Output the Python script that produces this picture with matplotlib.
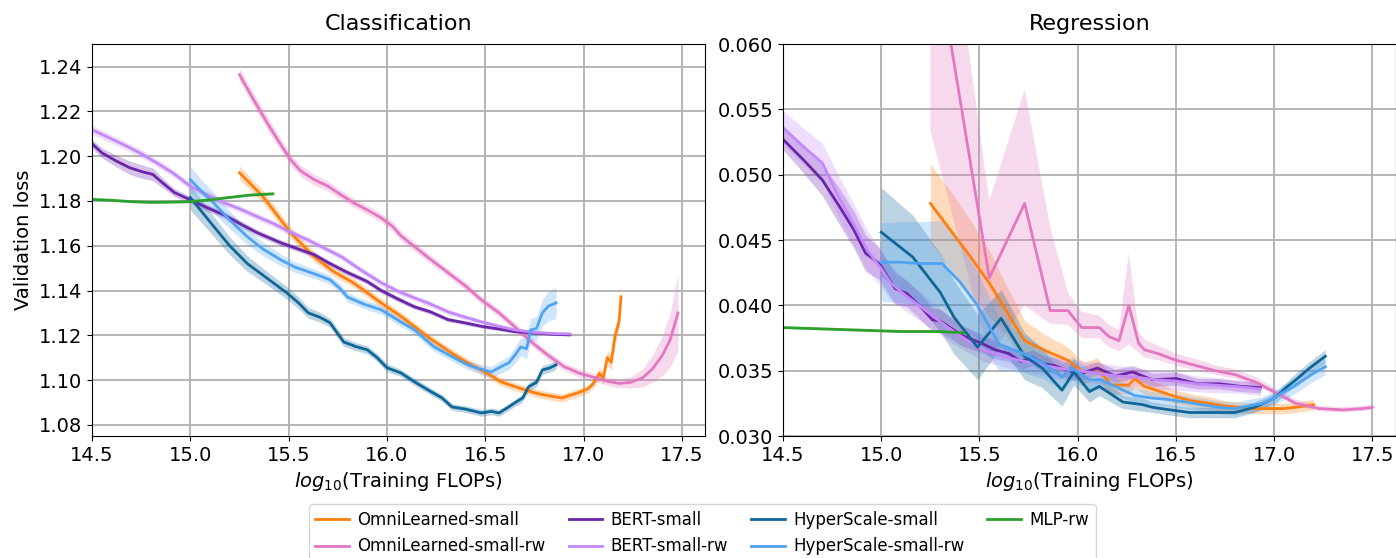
import numpy as np
import matplotlib
matplotlib.use("Agg")
import matplotlib.pyplot as plt

# ---- Classification: log10 FLOPs, mean validation loss, band half-width ----
cls_omni_x = [15.25, 15.37, 15.51, 15.63, 15.73, 15.83, 15.97, 16.07, 16.22, 16.33, 16.41, 16.50,
              16.58, 16.67, 16.75, 16.82, 16.89, 16.97, 17.02, 17.05, 17.08, 17.10, 17.12, 17.14,
              17.16, 17.18, 17.19]
cls_omni_y = [1.1926, 1.1819, 1.1658, 1.1550, 1.1484, 1.1434, 1.1345, 1.1285, 1.1185, 1.1120, 1.1077,
              1.1035, 1.0992, 1.0965, 1.0943, 1.0930, 1.0920, 1.0943, 1.0960, 1.0985, 1.1030, 1.1010,
              1.1100, 1.1080, 1.1200, 1.1260, 1.1372]
cls_omni_e = [0.0030, 0.0028, 0.0025, 0.0022, 0.0020, 0.0020, 0.0020, 0.0020, 0.0018, 0.0018, 0.0018,
              0.0018, 0.0018, 0.0018, 0.0018, 0.0018, 0.0018, 0.0018, 0.0018, 0.0020, 0.0025, 0.0030,
              0.0030, 0.0035, 0.0040, 0.0040, 0.0045]

cls_omni_rw_x = [15.25, 15.32, 15.39, 15.45, 15.51, 15.56, 15.63, 15.70, 15.77, 15.83, 15.90, 15.97,
                 16.03, 16.07, 16.14, 16.22, 16.31, 16.40, 16.48, 16.57, 16.65, 16.74, 16.82, 16.90,
                 16.98, 17.06, 17.12, 17.18, 17.24, 17.30, 17.35, 17.40, 17.44, 17.48]
cls_omni_rw_y = [1.2364, 1.2255, 1.2150, 1.2065, 1.1984, 1.1935, 1.1895, 1.1866, 1.1825, 1.1792, 1.1760,
                 1.1725, 1.1685, 1.1645, 1.1596, 1.1540, 1.1480, 1.1420, 1.1358, 1.1300, 1.1238, 1.1166,
                 1.1110, 1.1060, 1.1030, 1.1010, 1.0995, 1.0985, 1.0990, 1.1010, 1.1050, 1.1110, 1.1180,
                 1.1300]
cls_omni_rw_e = [0.0030, 0.0030, 0.0030, 0.0028, 0.0026, 0.0025, 0.0024, 0.0022, 0.0020, 0.0020, 0.0020,
                 0.0020, 0.0022, 0.0022, 0.0020, 0.0020, 0.0018, 0.0018, 0.0018, 0.0018, 0.0018, 0.0018,
                 0.0018, 0.0018, 0.0018, 0.0018, 0.0018, 0.0020, 0.0025, 0.0040, 0.0060, 0.0090, 0.0120,
                 0.0170]

cls_bert_x = [14.50, 14.55, 14.62, 14.69, 14.75, 14.81, 14.86, 14.92, 15.00, 15.08, 15.17, 15.26, 15.34,
              15.46, 15.55, 15.63, 15.70, 15.80, 15.90, 15.97, 16.06, 16.14, 16.22, 16.31, 16.40, 16.48,
              16.57, 16.65, 16.75, 16.84, 16.93]
cls_bert_y = [1.2056, 1.2015, 1.1980, 1.1949, 1.1932, 1.1918, 1.1880, 1.1837, 1.1805, 1.1772, 1.1738,
              1.1695, 1.1658, 1.1613, 1.1585, 1.1560, 1.1525, 1.1480, 1.1440, 1.1400, 1.1360, 1.1327,
              1.1305, 1.1270, 1.1255, 1.1240, 1.1228, 1.1216, 1.1210, 1.1205, 1.1202]
cls_bert_e = [0.0020, 0.0022, 0.0026, 0.0030, 0.0030, 0.0028, 0.0022, 0.0018, 0.0015, 0.0015, 0.0015,
              0.0015, 0.0014, 0.0013, 0.0012, 0.0012, 0.0012, 0.0012, 0.0012, 0.0012, 0.0012, 0.0011,
              0.0010, 0.0010, 0.0009, 0.0008, 0.0008, 0.0007, 0.0007, 0.0006, 0.0006]

cls_bert_rw_x = [14.50, 14.58, 14.66, 14.74, 14.82, 14.91, 15.00, 15.08, 15.17, 15.25, 15.34, 15.42,
                 15.51, 15.60, 15.68, 15.77, 15.87, 15.97, 16.06, 16.14, 16.22, 16.31, 16.40, 16.48,
                 16.57, 16.65, 16.75, 16.84, 16.93]
cls_bert_rw_y = [1.2118, 1.2085, 1.2052, 1.2016, 1.1975, 1.1926, 1.1866, 1.1830, 1.1792, 1.1765, 1.1730,
                 1.1700, 1.1660, 1.1625, 1.1590, 1.1550, 1.1490, 1.1435, 1.1395, 1.1367, 1.1340, 1.1305,
                 1.1280, 1.1260, 1.1240, 1.1224, 1.1213, 1.1208, 1.1206]
cls_bert_rw_e = [0.0020, 0.0019, 0.0018, 0.0018, 0.0017, 0.0016, 0.0016, 0.0015, 0.0015, 0.0015, 0.0015,
                 0.0015, 0.0015, 0.0014, 0.0014, 0.0014, 0.0014, 0.0014, 0.0013, 0.0013, 0.0013, 0.0012,
                 0.0012, 0.0011, 0.0010, 0.0009, 0.0008, 0.0007, 0.0006]

cls_hyper_x = [15.00, 15.06, 15.12, 15.20, 15.29, 15.39, 15.49, 15.55, 15.60, 15.66, 15.71, 15.78, 15.84,
               15.90, 15.95, 16.00, 16.07, 16.14, 16.22, 16.28, 16.33, 16.40, 16.48, 16.53, 16.57, 16.61,
               16.65, 16.69, 16.72, 16.76, 16.79, 16.83, 16.86]
cls_hyper_y = [1.1815, 1.1750, 1.1685, 1.1600, 1.1520, 1.1455, 1.1390, 1.1345, 1.1300, 1.1280, 1.1256,
               1.1170, 1.1150, 1.1135, 1.1100, 1.1055, 1.1032, 1.0992, 1.0950, 1.0920, 1.0880, 1.0870,
               1.0853, 1.0860, 1.0853, 1.0875, 1.0898, 1.0920, 1.0970, 1.0990, 1.1045, 1.1055, 1.1068]
cls_hyper_e = [0.0055, 0.0050, 0.0045, 0.0040, 0.0035, 0.0030, 0.0028, 0.0026, 0.0024, 0.0022, 0.0020,
               0.0020, 0.0018, 0.0018, 0.0018, 0.0018, 0.0016, 0.0016, 0.0016, 0.0015, 0.0015, 0.0015,
               0.0015, 0.0015, 0.0015, 0.0015, 0.0016, 0.0017, 0.0018, 0.0019, 0.0020, 0.0020, 0.0020]

cls_hyper_rw_x = [15.00, 15.06, 15.12, 15.20, 15.29, 15.37, 15.46, 15.53, 15.60, 15.66, 15.71, 15.76,
                  15.80, 15.88, 15.97, 16.07, 16.14, 16.24, 16.33, 16.41, 16.47, 16.53, 16.58, 16.62,
                  16.65, 16.68, 16.71, 16.73, 16.76, 16.79, 16.82, 16.86]
cls_hyper_rw_y = [1.1895, 1.1840, 1.1790, 1.1715, 1.1640, 1.1585, 1.1537, 1.1505, 1.1484, 1.1465, 1.1448,
                  1.1410, 1.1370, 1.1340, 1.1314, 1.1260, 1.1224, 1.1148, 1.1105, 1.1068, 1.1050, 1.1036,
                  1.1060, 1.1077, 1.1110, 1.1148, 1.1140, 1.1224, 1.1230, 1.1300, 1.1330, 1.1345]
cls_hyper_rw_e = [0.0060, 0.0052, 0.0045, 0.0040, 0.0035, 0.0030, 0.0026, 0.0024, 0.0022, 0.0020, 0.0020,
                  0.0020, 0.0020, 0.0020, 0.0020, 0.0020, 0.0020, 0.0020, 0.0020, 0.0020, 0.0022, 0.0025,
                  0.0028, 0.0030, 0.0035, 0.0040, 0.0045, 0.0050, 0.0055, 0.0060, 0.0065, 0.0070]

cls_mlp_x = [14.50, 14.60, 14.70, 14.80, 14.90, 15.00, 15.10, 15.20, 15.30, 15.42]
cls_mlp_y = [1.1807, 1.1803, 1.1797, 1.1794, 1.1795, 1.1797, 1.1805, 1.1816, 1.1826, 1.1832]
cls_mlp_e = [0.0005, 0.0005, 0.0005, 0.0005, 0.0005, 0.0005, 0.0005, 0.0005, 0.0005, 0.0005]

# ---- Regression ----
reg_omni_x = [15.25, 15.35, 15.45, 15.55, 15.62, 15.68, 15.73, 15.84, 15.95, 16.03, 16.10, 16.17, 16.26,
              16.29, 16.34, 16.42, 16.50, 16.58, 16.67, 16.75, 16.82, 16.90, 16.98, 17.05, 17.11, 17.16,
              17.20]
reg_omni_y = [0.0478, 0.0458, 0.0438, 0.0417, 0.0400, 0.0385, 0.0373, 0.0365, 0.0358, 0.0348, 0.0352,
              0.0339, 0.0339, 0.0344, 0.0338, 0.0334, 0.0330, 0.0327, 0.0325, 0.0323, 0.0322, 0.0321,
              0.0321, 0.0321, 0.0322, 0.0323, 0.0324]
reg_omni_e = [0.0030, 0.0030, 0.0028, 0.0025, 0.0020, 0.0018, 0.0015, 0.0012, 0.0010, 0.0008, 0.0008,
              0.0007, 0.0007, 0.0007, 0.0006, 0.0006, 0.0005, 0.0005, 0.0005, 0.0004, 0.0004, 0.0004,
              0.0004, 0.0004, 0.0004, 0.0004, 0.0004]

reg_omni_rw_x = [15.25, 15.55, 15.73, 15.86, 15.95, 16.02, 16.11, 16.16, 16.21, 16.26, 16.31, 16.34,
                 16.41, 16.50, 16.60, 16.70, 16.80, 16.91, 17.01, 17.11, 17.23, 17.35, 17.45, 17.50]
reg_omni_rw_y = [0.0696, 0.0421, 0.0478, 0.0396, 0.0396, 0.0383, 0.0383, 0.0376, 0.0373, 0.0400, 0.0371,
                 0.0366, 0.0363, 0.0358, 0.0354, 0.0350, 0.0347, 0.0341, 0.0333, 0.0325, 0.0321, 0.0320,
                 0.0321, 0.0322]
reg_omni_rw_lo = [0.0534, 0.0360, 0.0400, 0.0386, 0.0385, 0.0375, 0.0375, 0.0368, 0.0365, 0.0370, 0.0364,
                  0.0360, 0.0358, 0.0354, 0.0350, 0.0347, 0.0344, 0.0338, 0.0331, 0.0323, 0.0319, 0.0318,
                  0.0319, 0.0320]
reg_omni_rw_hi = [0.0810, 0.0480, 0.0565, 0.0460, 0.0410, 0.0395, 0.0392, 0.0385, 0.0381, 0.0440, 0.0380,
                  0.0374, 0.0369, 0.0363, 0.0359, 0.0354, 0.0351, 0.0345, 0.0336, 0.0328, 0.0323, 0.0322,
                  0.0323, 0.0324]

reg_bert_x = [14.50, 14.60, 14.70, 14.79, 14.86, 14.92, 14.99, 15.07, 15.13, 15.20, 15.26, 15.30, 15.36,
              15.41, 15.51, 15.58, 15.65, 15.71, 15.77, 15.83, 15.88, 15.95, 16.02, 16.10, 16.19, 16.28,
              16.38, 16.50, 16.61, 16.72, 16.83, 16.93]
reg_bert_y = [0.0527, 0.0512, 0.0496, 0.0475, 0.0458, 0.0440, 0.0432, 0.0413, 0.0409, 0.0399, 0.0389,
              0.0388, 0.0382, 0.0377, 0.0371, 0.0366, 0.0363, 0.0357, 0.0360, 0.0355, 0.0354, 0.0350,
              0.0348, 0.0352, 0.0346, 0.0349, 0.0343, 0.0344, 0.0340, 0.0340, 0.0338, 0.0337]
reg_bert_e = [0.0008, 0.0010, 0.0012, 0.0014, 0.0014, 0.0014, 0.0012, 0.0012, 0.0010, 0.0010, 0.0009,
              0.0009, 0.0008, 0.0008, 0.0007, 0.0007, 0.0006, 0.0006, 0.0006, 0.0006, 0.0006, 0.0006,
              0.0005, 0.0005, 0.0005, 0.0005, 0.0005, 0.0005, 0.0004, 0.0004, 0.0004, 0.0004]

reg_bert_rw_x = [14.50, 14.60, 14.70, 14.79, 14.86, 14.93, 15.00, 15.05, 15.12, 15.20, 15.27, 15.34,
                 15.44, 15.52, 15.60, 15.70, 15.80, 15.90, 16.00, 16.10, 16.20, 16.30, 16.40, 16.50,
                 16.60, 16.70, 16.80, 16.93]
reg_bert_rw_y = [0.0536, 0.0522, 0.0509, 0.0481, 0.0462, 0.0442, 0.0428, 0.0417, 0.0408, 0.0399, 0.0391,
                 0.0383, 0.0373, 0.0366, 0.0362, 0.0358, 0.0355, 0.0352, 0.0350, 0.0348, 0.0346, 0.0345,
                 0.0343, 0.0342, 0.0340, 0.0339, 0.0338, 0.0336]
reg_bert_rw_e = [0.0013, 0.0014, 0.0015, 0.0016, 0.0016, 0.0015, 0.0014, 0.0013, 0.0012, 0.0011, 0.0010,
                 0.0010, 0.0009, 0.0009, 0.0008, 0.0008, 0.0008, 0.0008, 0.0008, 0.0008, 0.0008, 0.0007,
                 0.0007, 0.0007, 0.0006, 0.0006, 0.0005, 0.0005]

reg_hyper_x = [15.00, 15.16, 15.30, 15.37, 15.49, 15.61, 15.73, 15.82, 15.92, 15.98, 16.06, 16.11, 16.19,
               16.23, 16.33, 16.38, 16.47, 16.57, 16.68, 16.80, 16.90, 16.96, 17.01, 17.06, 17.11, 17.18,
               17.26]
reg_hyper_y = [0.0456, 0.0437, 0.0410, 0.0391, 0.0368, 0.0390, 0.0361, 0.0352, 0.0335, 0.0349, 0.0334,
               0.0338, 0.0330, 0.0326, 0.0324, 0.0322, 0.0320, 0.0318, 0.0318, 0.0318, 0.0322, 0.0326,
               0.0330, 0.0337, 0.0343, 0.0352, 0.0361]
reg_hyper_e = [0.0034, 0.0032, 0.0030, 0.0028, 0.0025, 0.0022, 0.0018, 0.0015, 0.0012, 0.0010, 0.0008,
               0.0007, 0.0006, 0.0005, 0.0005, 0.0004, 0.0004, 0.0004, 0.0004, 0.0004, 0.0004, 0.0004,
               0.0004, 0.0004, 0.0005, 0.0005, 0.0005]

reg_hyper_rw_x = [15.00, 15.10, 15.20, 15.31, 15.40, 15.49, 15.60, 15.71, 15.82, 15.92, 15.97, 16.06,
                  16.12, 16.19, 16.29, 16.38, 16.46, 16.55, 16.63, 16.72, 16.80, 16.87, 16.94, 17.00,
                  17.04, 17.10, 17.15, 17.20, 17.26]
reg_hyper_rw_y = [0.0433, 0.0433, 0.0432, 0.0432, 0.0418, 0.0400, 0.0370, 0.0364, 0.0356, 0.0345, 0.0352,
                  0.0343, 0.0343, 0.0338, 0.0331, 0.0329, 0.0328, 0.0326, 0.0324, 0.0322, 0.0321, 0.0323,
                  0.0325, 0.0329, 0.0333, 0.0338, 0.0343, 0.0348, 0.0353]
reg_hyper_rw_e = [0.0030, 0.0031, 0.0032, 0.0033, 0.0030, 0.0026, 0.0020, 0.0015, 0.0012, 0.0010, 0.0009,
                  0.0008, 0.0007, 0.0006, 0.0006, 0.0005, 0.0005, 0.0005, 0.0005, 0.0005, 0.0005, 0.0005,
                  0.0005, 0.0005, 0.0006, 0.0006, 0.0006, 0.0006, 0.0006]

reg_mlp_x = [14.50, 14.70, 14.90, 15.10, 15.30, 15.42]
reg_mlp_y = [0.0383, 0.0382, 0.0381, 0.0380, 0.0380, 0.0379]
reg_mlp_e = [0.00008, 0.00008, 0.00008, 0.00008, 0.00008, 0.00008]

COLORS = {
    "OmniLearned-small": "#ff7f0e",
    "OmniLearned-small-rw": "#e377c2",
    "BERT-small": "#6a25a8",
    "BERT-small-rw": "#c488fa",
    "HyperScale-small": "#0f6798",
    "HyperScale-small-rw": "#4fa3f2",
    "MLP-rw": "#2ca02c",
}

cls_series = [
    ("OmniLearned-small", cls_omni_x, cls_omni_y, cls_omni_e),
    ("OmniLearned-small-rw", cls_omni_rw_x, cls_omni_rw_y, cls_omni_rw_e),
    ("BERT-small", cls_bert_x, cls_bert_y, cls_bert_e),
    ("BERT-small-rw", cls_bert_rw_x, cls_bert_rw_y, cls_bert_rw_e),
    ("HyperScale-small", cls_hyper_x, cls_hyper_y, cls_hyper_e),
    ("HyperScale-small-rw", cls_hyper_rw_x, cls_hyper_rw_y, cls_hyper_rw_e),
    ("MLP-rw", cls_mlp_x, cls_mlp_y, cls_mlp_e),
]


def sym(y, e):
    y, e = np.asarray(y), np.asarray(e)
    return y - e, y + e


reg_series = [
    ("OmniLearned-small", reg_omni_x, reg_omni_y, sym(reg_omni_y, reg_omni_e)),
    ("OmniLearned-small-rw", reg_omni_rw_x, reg_omni_rw_y, (reg_omni_rw_lo, reg_omni_rw_hi)),
    ("BERT-small", reg_bert_x, reg_bert_y, sym(reg_bert_y, reg_bert_e)),
    ("BERT-small-rw", reg_bert_rw_x, reg_bert_rw_y, sym(reg_bert_rw_y, reg_bert_rw_e)),
    ("HyperScale-small", reg_hyper_x, reg_hyper_y, sym(reg_hyper_y, reg_hyper_e)),
    ("HyperScale-small-rw", reg_hyper_rw_x, reg_hyper_rw_y, sym(reg_hyper_rw_y, reg_hyper_rw_e)),
    ("MLP-rw", reg_mlp_x, reg_mlp_y, sym(reg_mlp_y, reg_mlp_e)),
]

fig = plt.figure(figsize=(13.96, 5.58), dpi=100)
ax_c = fig.add_axes([0.0659, 0.2186, 0.4391, 0.7025])
ax_r = fig.add_axes([0.5609, 0.2186, 0.4391, 0.7025])

handles = []
for name, x, y, e in cls_series:
    c = COLORS[name]
    lo, hi = sym(y, e)
    ax_c.fill_between(x, lo, hi, color=c, alpha=0.28, linewidth=0)
    line, = ax_c.plot(x, y, color=c, linewidth=2.0, label=name)
    handles.append(line)

for name, x, y, (lo, hi) in reg_series:
    c = COLORS[name]
    ax_r.fill_between(x, lo, hi, color=c, alpha=0.28, linewidth=0)
    ax_r.plot(x, y, color=c, linewidth=2.0)

ax_c.set_xlim(14.5, 17.617)
ax_c.set_ylim(1.075, 1.2501)
ax_c.set_yticks(np.arange(1.08, 1.241, 0.02))
ax_c.set_title("Classification", fontsize=16, pad=10)
ax_c.set_ylabel("Validation loss", fontsize=14)

ax_r.set_xlim(14.5, 17.62)
ax_r.set_ylim(0.030, 0.060)
ax_r.set_yticks(np.arange(0.030, 0.0601, 0.005))
ax_r.yaxis.set_major_formatter(matplotlib.ticker.FormatStrFormatter("%.3f"))
ax_r.set_title("Regression", fontsize=16, pad=10)

for ax in (ax_c, ax_r):
    ax.set_xticks([14.5, 15.0, 15.5, 16.0, 16.5, 17.0, 17.5])
    ax.set_xlabel(r"$log_{10}$(Training FLOPs)", fontsize=14)
    ax.tick_params(labelsize=14)
    ax.grid(True, color="#b0b0b0", linewidth=1.3)
    ax.set_axisbelow(True)

fig.legend(handles=handles, loc="upper center", bbox_to_anchor=(0.503, 0.096), ncol=4,
           fontsize=12, handlelength=2.0, handletextpad=0.5, columnspacing=1.4,
           borderaxespad=0.0)

fig.savefig("out.png", dpi=100)
